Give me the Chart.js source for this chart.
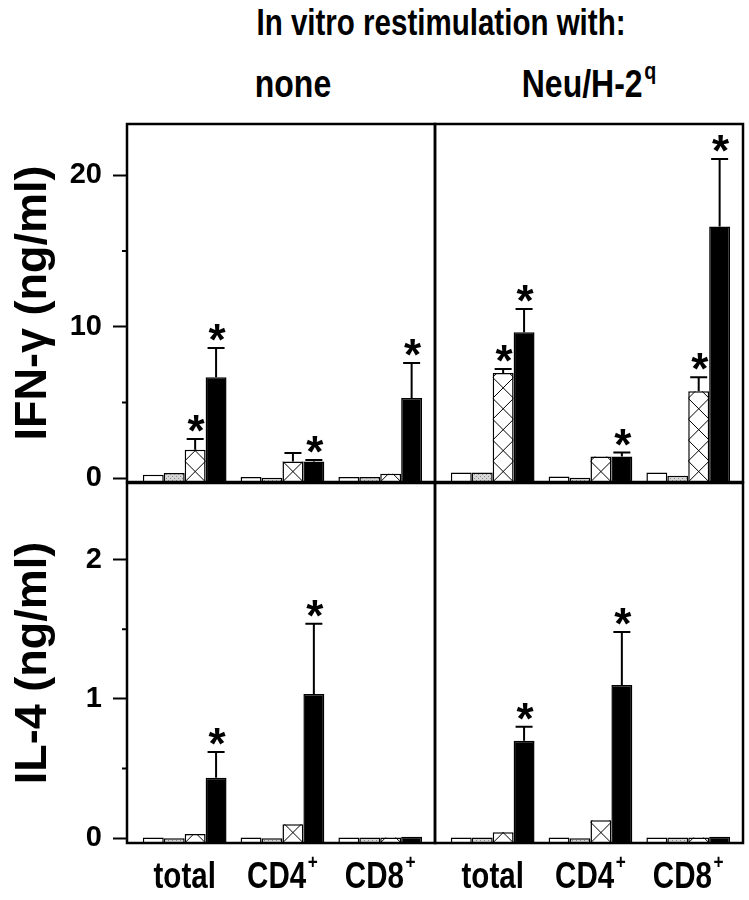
<!DOCTYPE html>
<html><head><meta charset="utf-8">
<script src="https://cdn.jsdelivr.net/npm/chart.js@4.4.1/dist/chart.umd.min.js"></script>
<style>
html,body{margin:0;padding:0;background:#fff;}
#wrap{position:relative;width:749px;height:900px;overflow:hidden;background:#fff;}
canvas{position:absolute;left:0;top:0;}
.hd{position:absolute;font-family:'Liberation Sans',Arial,sans-serif;font-weight:bold;color:#000;white-space:nowrap;text-align:center;transform:scaleX(0.82);transform-origin:50% 50%;}
.sp{font-size:24px;position:relative;top:-18px;margin-left:2px;}
</style></head><body>
<div id="wrap">
<div class="hd" style="left:141px;top:5px;width:600px;font-size:36px;line-height:36px;">In vitro restimulation with:</div>
<div class="hd" style="left:193px;top:64px;width:200px;font-size:39px;line-height:39px;">none</div>
<div class="hd" style="left:489px;top:64px;width:200px;font-size:39px;line-height:39px;">Neu/H-2<span class="sp">q</span></div>
<canvas id="cTL" width="749" height="900"></canvas>
<canvas id="cTR" width="749" height="900"></canvas>
<canvas id="cBL" width="749" height="900"></canvas>
<canvas id="cBR" width="749" height="900"></canvas>
</div>
<script>
// ---------- categories & ticks ----------
const cellSubsets = ['total', 'CD4\u207A', 'CD8\u207A'];
const subsetX = [1, 2, 3];
const ifnTicks = [0, 5, 10, 15, 20];
const ifnLabelled = [0, 10, 20];
const il4Ticks = [0, 0.5, 1, 1.5, 2];
const il4Labelled = [0, 1, 2];

// ---------- IFN-gamma, no restimulation ----------
const ifnNoneOpen        = [0.22, 0.07, 0.07];
const ifnNoneDotted      = [0.33, 0.02, 0.07];
const ifnNoneHatched     = [1.87, 1.10, 0.28];
const ifnNoneSolid       = [6.67, 1.10, 5.29];
const ifnNoneHatchedErr  = [0.71, 0.55, 0];
const ifnNoneSolidErr    = [1.92, 0.10, 2.31];
const ifnNoneHatchedSig  = [1, 0, 0];
const ifnNoneSolidSig    = [1, 1, 1];

// ---------- IFN-gamma, Neu/H-2q ----------
const ifnNeuOpen         = [0.37, 0.10, 0.37];
const ifnNeuDotted       = [0.37, 0.02, 0.15];
const ifnNeuHatched      = [6.94, 1.43, 5.73];
const ifnNeuSolid        = [9.63, 1.43, 16.63];
const ifnNeuHatchedErr   = [0.26, 0, 0.94];
const ifnNeuSolidErr     = [1.54, 0.26, 4.45];
const ifnNeuHatchedSig   = [1, 0, 1];
const ifnNeuSolidSig     = [1, 1, 1];

// ---------- IL-4, no restimulation ----------
const il4NoneOpen        = [0.005, 0.005, 0.005];
const il4NoneDotted      = [0.0, 0.0, 0.005];
const il4NoneHatched     = [0.03, 0.10, 0.005];
const il4NoneSolid       = [0.435, 1.035, 0.01];
const il4NoneHatchedErr  = [0, 0, 0];
const il4NoneSolidErr    = [0.185, 0.505, 0];
const il4NoneHatchedSig  = [0, 0, 0];
const il4NoneSolidSig    = [1, 1, 0];

// ---------- IL-4, Neu/H-2q ----------
const il4NeuOpen         = [0.005, 0.005, 0.005];
const il4NeuDotted       = [0.005, 0.0, 0.005];
const il4NeuHatched      = [0.043, 0.13, 0.005];
const il4NeuSolid        = [0.70, 1.10, 0.01];
const il4NeuHatchedErr   = [0, 0, 0];
const il4NeuSolidErr     = [0.10, 0.38, 0];
const il4NeuHatchedSig   = [0, 0, 0];
const il4NeuSolidSig     = [1, 1, 0];

const zeros = [0, 0, 0];

// ---------- styling ----------
Chart.defaults.font.family = "'Liberation Sans', Arial, sans-serif";
const SQUEEZE = 0.82;

function stipple() {
  const c = document.createElement('canvas');
  c.width = 4; c.height = 4;
  const g = c.getContext('2d');
  g.fillStyle = '#d6d6d6'; g.fillRect(0, 0, 4, 4);
  g.fillStyle = '#8a8a8a'; g.fillRect(0, 0, 1, 1); g.fillRect(2, 2, 1, 1);
  return g.createPattern(c, 'repeat');
}
const dotted = stipple();

const panelPlugin = {
  id: 'panelDecor',
  afterDatasetDraw(chart, args) {
    if (args.index !== 2) return;
    const ctx = chart.ctx;
    args.meta.data.forEach(el => {
      const p = el.getProps(['x', 'y', 'base', 'width'], true);
      const left = p.x - p.width / 2, w = p.width;
      const top = Math.min(p.y, p.base), bottom = Math.max(p.y, p.base);
      ctx.save();
      ctx.beginPath(); ctx.rect(left, top, w, bottom - top); ctx.clip();
      ctx.strokeStyle = '#000'; ctx.lineWidth = 1;
      ctx.beginPath();
      for (let yb = bottom; yb > top - w; yb -= w) {
        ctx.moveTo(left, yb); ctx.lineTo(left + w, yb - w);
        ctx.moveTo(left, yb - w); ctx.lineTo(left + w, yb);
      }
      ctx.stroke();
      ctx.restore();
    });
  },
  afterDatasetsDraw(chart) {
    const ctx = chart.ctx;
    const ys = chart.scales.y;
    chart.data.datasets.forEach((ds, di) => {
      const meta = chart.getDatasetMeta(di);
      meta.data.forEach((el, i) => {
        const v = ds.data[i].y, e = ds.errs[i] || 0;
        const yTop = ys.getPixelForValue(v + e);
        const x = el.x;
        ctx.save();
        ctx.strokeStyle = '#000'; ctx.lineWidth = 2;
        if (e > 0) {
          ctx.beginPath();
          ctx.moveTo(x, el.y); ctx.lineTo(x, yTop);
          ctx.moveTo(x - 8.5, yTop); ctx.lineTo(x + 8.5, yTop);
          ctx.stroke();
        }
        if (ds.sig[i]) {
          ctx.fillStyle = '#000';
          ctx.font = "bold 44px 'Liberation Sans', Arial, sans-serif";
          ctx.textAlign = 'center'; ctx.textBaseline = 'alphabetic';
          ctx.fillText('*', x + 1, yTop - 18 + 0.57 * 44);
        }
        ctx.restore();
      });
    });
  },
  afterDraw(chart) {
    const ctx = chart.ctx, a = chart.chartArea;
    const o = chart.options.plugins.panelDecor;
    ctx.save();
    ctx.strokeStyle = '#000';
    if (o.minorTicks) {
      ctx.lineWidth = 2;
      ctx.beginPath();
      o.minorTicks.forEach(v => {
        const y = chart.scales.y.getPixelForValue(v);
        ctx.moveTo(a.left - 5, y); ctx.lineTo(a.left, y);
      });
      ctx.stroke();
    }
    ctx.lineWidth = 2.5;
    ctx.strokeRect(a.left, a.top, a.right - a.left, a.bottom - a.top);
    // category labels under the lower panels (condensed bold, superscript "+")
    if (o.xLabels) {
      const xs = chart.scales.x;
      const baseY = a.bottom + 45;
      ctx.fillStyle = '#000';
      ctx.textAlign = 'left'; ctx.textBaseline = 'alphabetic';
      subsetX.forEach((v, i) => {
        const lab = cellSubsets[i];
        const hasSup = lab.endsWith('\u207A');
        const main = hasSup ? lab.slice(0, -1) : lab;
        ctx.font = "bold 36px 'Liberation Sans', Arial, sans-serif";
        const wMain = ctx.measureText(main).width;
        ctx.font = "bold 21px 'Liberation Sans', Arial, sans-serif";
        const wSup = hasSup ? ctx.measureText('+').width + 2 : 0;
        const total = (wMain + wSup) * SQUEEZE;
        const cx = xs.getPixelForValue(v);
        ctx.save();
        ctx.translate(cx - total / 2, baseY);
        ctx.scale(SQUEEZE, 1);
        ctx.font = "bold 36px 'Liberation Sans', Arial, sans-serif";
        ctx.fillText(main, 0, 0);
        if (hasSup) {
          ctx.font = "bold 21px 'Liberation Sans', Arial, sans-serif";
          ctx.fillText('+', wMain + 2, -19);
        }
        ctx.restore();
      });
    }
    ctx.restore();
  }
};

function makePanel(id, p) {
  const ds = (label, vals, errs, sig, fill) => ({
    label,
    data: subsetX.map((x, i) => ({ x, y: vals[i] })),
    errs, sig,
    backgroundColor: fill, borderColor: '#000', borderWidth: 1.5,
    base: p.yMin, categoryPercentage: 0.856, barPercentage: 1
  });
  const isLab = v => p.labelled.some(l => Math.abs(l - v) < 1e-9);
  new Chart(document.getElementById(id), {
    type: 'bar',
    data: {
      datasets: [
        ds('open', p.open, zeros, zeros, '#ffffff'),
        ds('dotted', p.dotted, zeros, zeros, dotted),
        ds('hatched', p.hatched, p.hatchedErr, p.hatchedSig, '#ffffff'),
        ds('solid', p.solid, p.solidErr, p.solidSig, '#000000')
      ]
    },
    plugins: [panelPlugin],
    options: {
      responsive: false, animation: false, devicePixelRatio: 1,
      layout: { padding: p.pad },
      plugins: {
        legend: { display: false }, tooltip: { enabled: false },
        panelDecor: {
          minorTicks: p.showY ? p.ticks.filter(v => !isLab(v)) : null,
          xLabels: p.showX
        }
      },
      scales: {
        x: {
          type: 'linear', min: 0.41, max: 3.56, offset: false,
          afterBuildTicks: s => { s.ticks = subsetX.map(v => ({ value: v })); },
          afterFit: s => { s.height = p.showX ? 57 : 0; s.paddingLeft = 0; s.paddingRight = 0; },
          grid: { display: false, drawTicks: false },
          border: { display: false },
          ticks: { display: false }
        },
        y: {
          type: 'linear', min: p.yMin, max: p.yMax, display: p.showY,
          afterBuildTicks: s => { s.ticks = p.ticks.map(v => ({ value: v })); },
          afterFit: s => { s.width = p.showY ? 127 : 0; s.paddingTop = 0; s.paddingBottom = 0; },
          grid: {
            drawOnChartArea: false, drawTicks: true, tickLength: 14, tickWidth: 2,
            tickColor: c => isLab(c.tick.value) ? '#000' : 'rgba(0,0,0,0)'
          },
          border: { display: false },
          ticks: {
            padding: 11, color: '#000', autoSkip: false,
            font: { size: 29, weight: 'bold' },
            callback: v => isLab(v) ? String(v) : ''
          },
          title: {
            display: true, text: p.title, color: '#000',
            font: { size: 45, weight: 'bold' }, padding: { top: 7, bottom: 0 }
          }
        }
      }
    }
  });
}

makePanel('cTL', {
  open: ifnNoneOpen, dotted: ifnNoneDotted, hatched: ifnNoneHatched, solid: ifnNoneSolid,
  hatchedErr: ifnNoneHatchedErr, solidErr: ifnNoneSolidErr,
  hatchedSig: ifnNoneHatchedSig, solidSig: ifnNoneSolidSig,
  yMin: -0.26, yMax: 23.4, ticks: ifnTicks, labelled: ifnLabelled,
  title: 'IFN-\u03B3 (ng/ml)', showY: true, showX: false,
  pad: { left: 0, right: 314, top: 124, bottom: 418 }
});
makePanel('cTR', {
  open: ifnNeuOpen, dotted: ifnNeuDotted, hatched: ifnNeuHatched, solid: ifnNeuSolid,
  hatchedErr: ifnNeuHatchedErr, solidErr: ifnNeuSolidErr,
  hatchedSig: ifnNeuHatchedSig, solidSig: ifnNeuSolidSig,
  yMin: -0.26, yMax: 23.4, ticks: ifnTicks, labelled: ifnLabelled,
  title: 'IFN-\u03B3 (ng/ml)', showY: false, showX: false,
  pad: { left: 435, right: 6, top: 124, bottom: 418 }
});
makePanel('cBL', {
  open: il4NoneOpen, dotted: il4NoneDotted, hatched: il4NoneHatched, solid: il4NoneSolid,
  hatchedErr: il4NoneHatchedErr, solidErr: il4NoneSolidErr,
  hatchedSig: il4NoneHatchedSig, solidSig: il4NoneSolidSig,
  yMin: -0.034, yMax: 2.55, ticks: il4Ticks, labelled: il4Labelled,
  title: 'IL-4 (ng/ml)', showY: true, showX: true,
  pad: { left: 0, right: 314, top: 483, bottom: 0 }
});
makePanel('cBR', {
  open: il4NeuOpen, dotted: il4NeuDotted, hatched: il4NeuHatched, solid: il4NeuSolid,
  hatchedErr: il4NeuHatchedErr, solidErr: il4NeuSolidErr,
  hatchedSig: il4NeuHatchedSig, solidSig: il4NeuSolidSig,
  yMin: -0.034, yMax: 2.55, ticks: il4Ticks, labelled: il4Labelled,
  title: 'IL-4 (ng/ml)', showY: false, showX: true,
  pad: { left: 435, right: 6, top: 483, bottom: 0 }
});
</script>
</body></html>
